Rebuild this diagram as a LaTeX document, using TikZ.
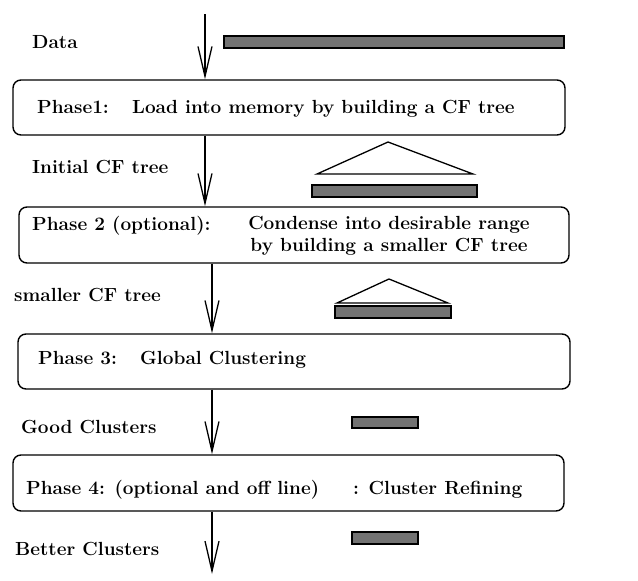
\documentclass[tikz,border=0pt]{standalone}
\usepackage{tikz}
\usetikzlibrary{arrows.meta,positioning}
\definecolor{bargray}{RGB}{115,115,115}

\begin{document}
\begin{tikzpicture}[x=1pt,y=-1pt,
    phase/.style={draw, line width=1.4pt, rounded corners=8pt, inner sep=0pt, minimum height=55pt},
    txt/.style={anchor=base west, inner sep=0pt, font=\bfseries\fontsize{19}{22}\selectfont},
    flow/.style={line width=1.3pt, -{Straight Barb[length=30pt, width=14pt, line width=1.3pt]}},
    bar/.style={draw, line width=1.4pt, fill=bargray},
    tree/.style={draw, line width=1.3pt, line join=miter}]
      \useasboundingbox (0,0) rectangle (638,581);
      \coordinate (in) at (205,14);
      \coordinate (col) at (212,0);
      \coordinate (out) at (212,574);

      \node[phase, minimum width=552pt] (phase1) at (289,107.5) {};
      \node[phase, minimum width=550pt, minimum height=56pt] (phase2) at (294,235) {};
      \node[phase, minimum width=552pt] (phase3) at (294,361.5) {};
      \node[phase, minimum width=551pt, minimum height=56pt] (phase4) at (288.5,483) {};

      \node[txt] (data) at (32,48) {Data};
      \node[txt] (init) at (32,173) {Initial CF tree};
      \node[txt] (small) at (14,301) {smaller CF tree};
      \node[txt] (good) at (21,433) {Good Clusters};
      \node[txt] (better) at (15,555) {Better Clusters};

      \node[txt] (p1) at (37,113) {Phase1:};
      \node[txt] (p1t) at (132,113) {Load into memory by building a CF tree};
      \node[txt] (p2) at (32,230) {Phase 2 (optional):};
      \node[txt, anchor=base, align=center] (p2t) at (389,251) {Condense into desirable range\\by building a smaller CF tree};
      \node[txt] (p3) at (38,364) {Phase 3:};
      \node[txt] (p3t) at (140,364) {Global Clustering};
      \node[txt] (p4) at (26,494) {Phase 4: (optional and off line)};
      \node[txt] (p4t) at (353,494) {: Cluster Refining};

      \draw[flow] (in) -- (in |- phase1.north);
      \draw[flow] (phase1.south -| in) -- (phase2.north -| in);
      \draw[flow] (phase2.south -| col) -- (phase3.north -| col);
      \draw[flow] (phase3.south -| col) -- (phase4.north -| col);
      \draw[flow] (phase4.south -| col) -- (out);

      \draw[bar] (224,36) rectangle (564,48);
      \draw[tree] (388,142) -- (473,174) -- (317,174) -- cycle;
      \draw[bar] (312,185) rectangle (477,197);
      \draw[tree] (389,279) -- (448,303) -- (337,303) -- cycle;
      \draw[bar] (335,306) rectangle (451,318);
      \draw[bar] (352,417) rectangle (418,428);
      \draw[bar] (352,532) rectangle (418,544);
\end{tikzpicture}
\end{document}
